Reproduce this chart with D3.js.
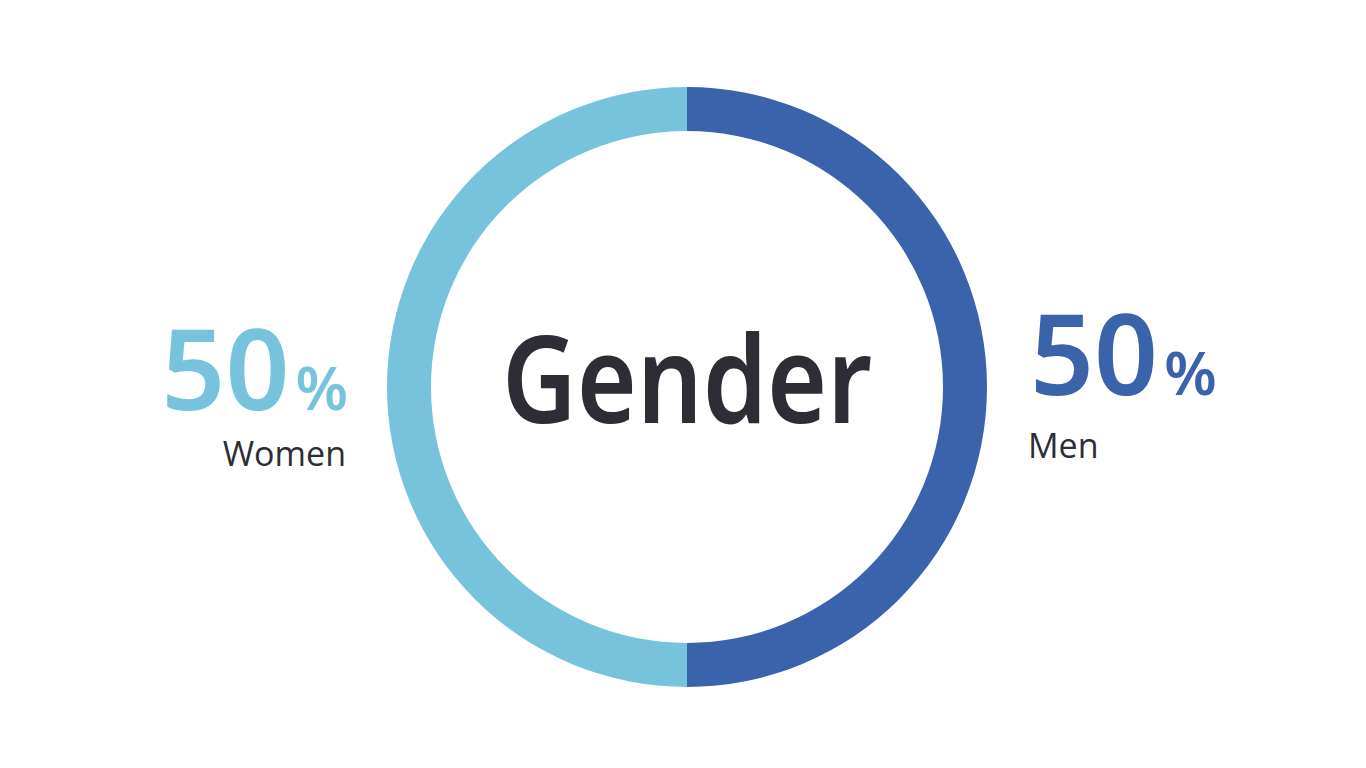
<!DOCTYPE html>
<html>
<head>
<meta charset="utf-8">
<script src="https://cdn.jsdelivr.net/npm/d3@7"></script>
<style>
  html, body { margin: 0; padding: 0; background: #fff; }
  svg { display: block; }
</style>
</head>
<body>
<div id="chart"></div>
<script>
// data
const categories = ["Men", "Women"];
const values = [50, 50];
const colors = ["#3b63ac", "#78c3dc"];
const title = "Gender";

const width = 1366, height = 768;
const cx = 687, cy = 387;
const outerR = 300, innerR = 256;

const svg = d3.select("#chart").append("svg")
  .attr("width", width)
  .attr("height", height);

const pie = d3.pie().sort(null).value(d => d.value);
const arc = d3.arc().innerRadius(innerR).outerRadius(outerR);

const data = categories.map((c, i) => ({ name: c, value: values[i], color: colors[i] }));
const arcs = pie(data);

const g = svg.append("g").attr("transform", `translate(${cx},${cy})`);

g.selectAll("path")
  .data(arcs)
  .enter().append("path")
    .attr("d", arc)
    .attr("fill", d => d.data.color);

// center title
g.append("text")
  .attr("x", 0)
  .attr("y", 36)
  .attr("text-anchor", "middle")
  .attr("font-family", "'Noto Sans', sans-serif")
  .attr("font-weight", 600)
  .attr("font-size", 122)
  .attr("textLength", 370)
  .attr("lengthAdjust", "spacingAndGlyphs")
  .attr("fill", "#2d2d35")
  .text(title);

// side labels: Men on right, Women on left
const labelPos = {
  Men:   { x: 1030, y: 395, anchor: "start", nameY: 458 },
  Women: { x: 348,  y: 410, anchor: "end",   nameY: 466 }
};

arcs.forEach(a => {
  const p = labelPos[a.data.name];
  const pct = Math.round(100 * a.value / d3.sum(values));
  const t = svg.append("text")
    .attr("x", p.x)
    .attr("y", p.y)
    .attr("text-anchor", p.anchor)
    .attr("font-family", "'Noto Sans', sans-serif")
    .attr("font-weight", 600)
    .attr("fill", a.data.color);
  t.append("tspan").attr("font-size", 112).text(pct);
  t.append("tspan").attr("font-size", 60).attr("dx", 6).text("%");

  svg.append("text")
    .attr("x", p.anchor === "end" ? p.x - 2 : p.x - 2)
    .attr("y", p.nameY)
    .attr("text-anchor", p.anchor)
    .attr("font-family", "'Open Sans', sans-serif")
    .attr("font-size", 34)
    .attr("fill", "#2d2d35")
    .text(a.data.name);
});
</script>
</body>
</html>
